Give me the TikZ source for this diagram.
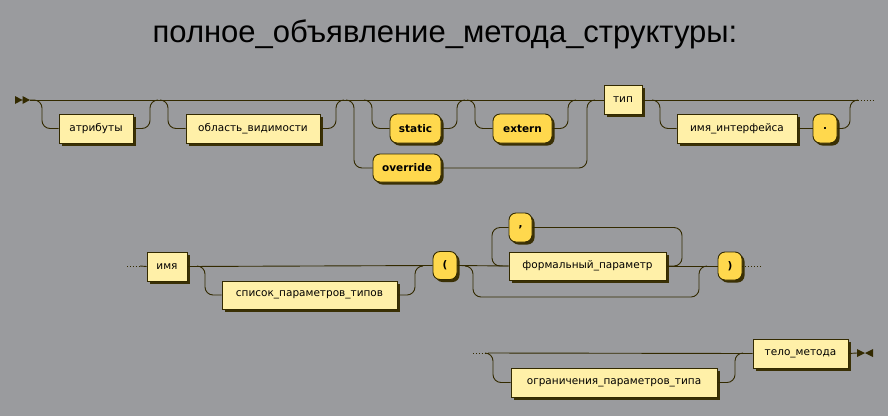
\documentclass[tikz,border=0pt]{standalone}
\usepackage{fontspec}
\setmainfont{DejaVu Sans}
\newfontfamily\titlefont{Liberation Sans}
\usetikzlibrary{shadows}

\definecolor{bgcol}{RGB}{154,155,158}
\definecolor{linecol}{RGB}{51,42,0}
\definecolor{ntfill}{RGB}{255,240,168}
\definecolor{tmfill}{RGB}{255,216,77}
\definecolor{shadowcol}{RGB}{58,48,5}

\tikzset{
  nt/.style={draw=linecol, fill=ntfill, line width=0.9pt, minimum height=29pt,
    inner sep=0pt, text=black, font=\fontsize{10.5}{11}\selectfont,
    general shadow={fill=shadowcol, shadow xshift=2.5pt, shadow yshift=-2.5pt}},
  tm/.style={nt, fill=tmfill, rounded corners=7pt, font=\fontsize{10.5}{11}\selectfont\bfseries},
  rail/.style={draw=linecol, line width=0.9pt, rounded corners=8pt},
  dots/.style={draw=linecol, line width=0.9pt, dotted}
}

\begin{document}
\begin{tikzpicture}[x=1pt, y=-1pt]
        \fill[bgcol] (0,0) rectangle (888,416);
        \useasboundingbox (0,0) rectangle (888,416);

        \node (title) at (445,34) {\titlefont\fontsize{31}{31}\selectfont полное\_объявление\_метода\_структуры:};

        % first row
        \node[nt, minimum width=74pt]  (attr)     at (96,128.5)  {атрибуты};
        \node[nt, minimum width=134pt] (scope)    at (253,128.5) {область\_видимости};
        \node[tm, minimum width=51pt]  (static)   at (415.5,128.5) {static};
        \node[tm, minimum width=59pt]  (extern)   at (522.5,128.5) {extern};
        \node[tm, minimum width=68pt, minimum height=28pt] (override) at (407,168) {override};
        \node[nt, minimum width=38pt]  (type)     at (623,100)   {тип};
        \node[nt, minimum width=120pt] (iface)    at (737,128.5) {имя\_интерфейса};
        \node[tm, minimum width=24pt]  (dot)      at (825,128.5) {.};

        \coordinate (s1) at (30,100);
        \coordinate (e1) at (858,100);
        \fill[linecol] (15,96) -- (22.5,100) -- (15,104) -- cycle
                       (22.5,96) -- (30,100) -- (22.5,104) -- cycle;
        \draw[rail] (s1) -- (type.west);
        \draw[rail] (type.east) -- (e1);
        \draw[dots] (e1) -- (873,100);

        \draw[rail] (s1) -- (42,100) |- (attr.west);
        \draw[rail] (attr.east) -| (150,100) -- (158,100);
        \draw[rail] (160,100) -- (168,100) |- (scope.west);
        \draw[rail] (scope.east) -| (336,100) -- (344,100);
        \draw[rail] (346,100) -- (354,100) |- (override.west);
        \draw[rail] (override.east) -| (587,100) -- (595,100);
        \draw[rail] (364,100) -- (372,100) |- (static.west);
        \draw[rail] (static.east) -| (457,100) -- (465,100);
        \draw[rail] (467,100) -- (475,100) |- (extern.west);
        \draw[rail] (extern.east) -| (568,100) -- (576,100);
        \draw[rail] (652,100) -- (660,100) |- (iface.west);
        \draw[rail] (iface.east) -- (dot.west);
        \draw[rail] (dot.east) -| (850,100) -- (e1);

        % second row
        \node[nt, minimum width=40pt]  (name)    at (167,266.5) {имя};
        \node[nt, minimum width=175pt, minimum height=28pt] (tparams) at (309.5,295) {список\_параметров\_типов};
        \node[tm, minimum width=24pt, minimum height=28pt] (lpar)   at (445,265.5) {(};
        \node[nt, minimum width=157pt, minimum height=28pt] (fparam) at (587.5,266) {формальный\_параметр};
        \node[tm, minimum width=23pt]  (comma)   at (520.5,227.5) {,};
        \node[tm, minimum width=24pt, minimum height=28pt] (rpar)   at (730,266) {)};

        \coordinate (s2) at (140,266);
        \draw[dots] (127,266) -- (s2);
        \draw[rail] (s2) -- (name.west);
        \draw[rail] (name.east) -- (lpar.west);
        \draw[rail] (197,266) -- (205,266) |- (tparams.west);
        \draw[rail] (tparams.east) -| (415,266) -- (423,266);
        \draw[rail] (lpar.east) -- (fparam.west);
        \draw[rail] (fparam.east) -- (rpar.west);
        \draw[rail] (465,266) -- (473,266) -- (473,297) -- (699,297) -- (699,266) -- (707,266);
        \draw[rail] (fparam.east) -| (682,227.5) -- (comma.east);
        \draw[rail] (comma.west) -| (492,266) -- (fparam.west);
        \draw[dots] (rpar.east) -- (762,266);

        % third row
        \node[nt, minimum width=206pt] (constr) at (614,382.5) {ограничения\_параметров\_типа};
        \node[nt, minimum width=95pt]  (body)   at (800.5,353.5) {тело\_метода};

        \coordinate (s3) at (488,353);
        \coordinate (e3) at (857,353);
        \draw[dots] (473,353) -- (s3);
        \draw[rail] (s3) -- (body.west);
        \draw[rail] (485,353) -- (493,353) |- (constr.west);
        \draw[rail] (constr.east) -| (735,353) -- (743,353);
        \draw[rail] (body.east) -- (e3);
        \fill[linecol] (857,349) -- (865,353) -- (857,357) -- cycle
                       (873,349) -- (865,353) -- (873,357) -- cycle;
\end{tikzpicture}
\end{document}
